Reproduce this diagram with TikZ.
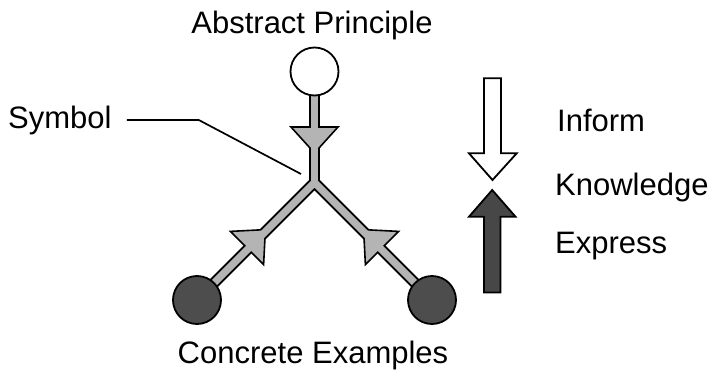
\documentclass[tikz,border=0pt]{standalone}
\usepackage{fontspec}
\setsansfont{Liberation Sans}
\usetikzlibrary{arrows.meta}

\definecolor{bandgray}{HTML}{B4B4B4}
\definecolor{dotdark}{HTML}{4D4D4D}
\definecolor{arrowdark}{HTML}{474747}

\begin{document}
\begin{tikzpicture}[
    x=1pt, y=-1pt,
    every node/.style={font=\sffamily\fontsize{31}{36}\selectfont, inner sep=0pt},
    bandout/.style={line width=11pt, black, line join=miter},
    bandin/.style={line width=7.4pt, bandgray, line join=miter},
    barb/.style={fill=bandgray, draw=black, line width=1.6pt, line join=miter},
    whitedot/.style={circle, minimum size=48pt, draw, line width=1.8pt, fill=white},
    darkdot/.style={circle, minimum size=48pt, draw, line width=1.8pt, fill=dotdark},
    bigarrow/.style={draw, line width=1.8pt, line join=miter},
]
\useasboundingbox (0,0) rectangle (716,372);

% === Symbol skeleton ===
\coordinate (T) at (314.5,71.5);
\coordinate (J) at (314.5,182.5);
\coordinate (L) at (197,300);
\coordinate (R) at (432,300);

% outline of the band
\draw[bandout] (T) -- (J);
\draw[bandout] (L) -- (J) -- (R);

% barbs pointing to the junction
\draw[barb] (291,127) -- (338,127) -- (314.5,153) -- cycle;
\draw[barb] (230.4,231.4) -- (263.6,264.6) -- (265.4,229.6) -- cycle;
\draw[barb] (398.6,231.4) -- (365.4,264.6) -- (363.6,229.6) -- cycle;

% inside of the band
\draw[bandin] (T) -- (J);
\draw[bandin] (L) -- (J) -- (R);

% === End points ===
\node[whitedot] (abs) at (T) {};
\node[darkdot] (conL) at (L) {};
\node[darkdot] (conR) at (R) {};

\node[anchor=base] (abstxt) at (312,33) {Abstract Principle};
\node[anchor=base] (contxt) at (313,363) {Concrete Examples};

% === Symbol label ===
\node[anchor=base west] (sym) at (8,128) {Symbol};
\coordinate (symtip) at (301,174);
\draw[line width=1.7pt] ([xshift=15pt]sym.east) -- ++(72,0) -- (symtip);

% === Inform / Express arrows ===
\draw[bigarrow, fill=white]
    (484,78.3) -- (501,78.3) -- (501,153.3) -- (516.7,153.3)
    -- (492.5,180) -- (469,153.3) -- (484,153.3) -- cycle;
\draw[bigarrow, fill=arrowdark]
    (484,292.5) -- (500.5,292.5) -- (500.5,216.7) -- (515.5,216.7)
    -- (492.2,190) -- (469,216.7) -- (484,216.7) -- cycle;

\node[anchor=base west] (inform) at (557,131) {Inform};
\node[anchor=base west] (know) at (555,195) {Knowledge};
\node[anchor=base west] (express) at (555,253) {Express};

\end{tikzpicture}
\end{document}
